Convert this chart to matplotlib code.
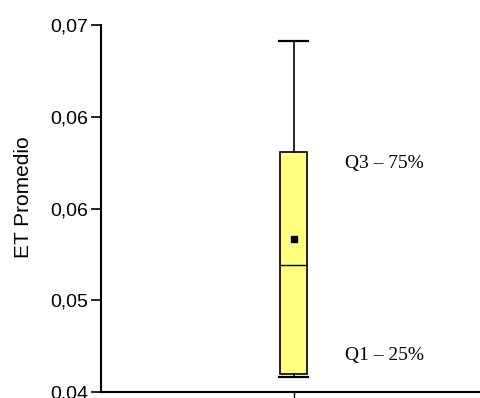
import numpy as np
import matplotlib
matplotlib.use('Agg')
import matplotlib.pyplot as plt
from matplotlib.ticker import FuncFormatter

# valores
etiqueta = 'ET'
bigote_inf = 0.04123
q1 = 0.04147
mediana = 0.05038
media = 0.05251
q3 = 0.05962
bigote_sup = 0.06869

ticks_y = [0.04, 0.0475, 0.055, 0.0625, 0.07]

fig = plt.figure(figsize=(4.81, 3.98), dpi=100)
ax = fig.add_axes([0.21, 0.015, 0.79, 0.922])

stats = [dict(label=etiqueta, whislo=bigote_inf, q1=q1, med=mediana,
              mean=media, q3=q3, whishi=bigote_sup)]

ax.bxp(stats, positions=[1], widths=0.14, capwidths=0.15,
       showmeans=True, patch_artist=True, showfliers=False,
       boxprops=dict(facecolor='#ffff80', edgecolor='black', linewidth=1.2),
       medianprops=dict(color='black', linewidth=1.0),
       whiskerprops=dict(color='black', linewidth=1.2),
       capprops=dict(color='black', linewidth=1.6),
       meanprops=dict(marker='s', markerfacecolor='black',
                      markeredgecolor='black', markersize=5))

ax.set_xlim(0, 1.97)
ax.set_ylim(0.04, 0.07)
ax.set_yticks(ticks_y)
ax.yaxis.set_major_formatter(FuncFormatter(lambda v, p: f'{v:.2f}'.replace('.', ',')))
ax.set_xticks([1])
ax.set_xticklabels([''])

for s in ['top', 'right']:
    ax.spines[s].set_visible(False)
for s in ['left', 'bottom']:
    ax.spines[s].set_linewidth(1.5)

ax.tick_params(axis='y', length=7, width=1.2, labelsize=14, pad=2)
ax.tick_params(axis='x', length=5, width=1.0)
for lbl in ax.get_yticklabels():
    lbl.set_fontfamily('Liberation Sans')

ax.set_ylabel('ET Promedio', fontsize=15, family='Liberation Sans')
ax.yaxis.set_label_coords(-0.178, 0.531)

ax.text(1.265, 0.05872, 'Q3 – 75%', fontsize=14, family='Liberation Serif',
        ha='left', va='center')
ax.text(1.265, 0.04302, 'Q1 – 25%', fontsize=14, family='Liberation Serif',
        ha='left', va='center')

fig.savefig('out.png', dpi=100)
